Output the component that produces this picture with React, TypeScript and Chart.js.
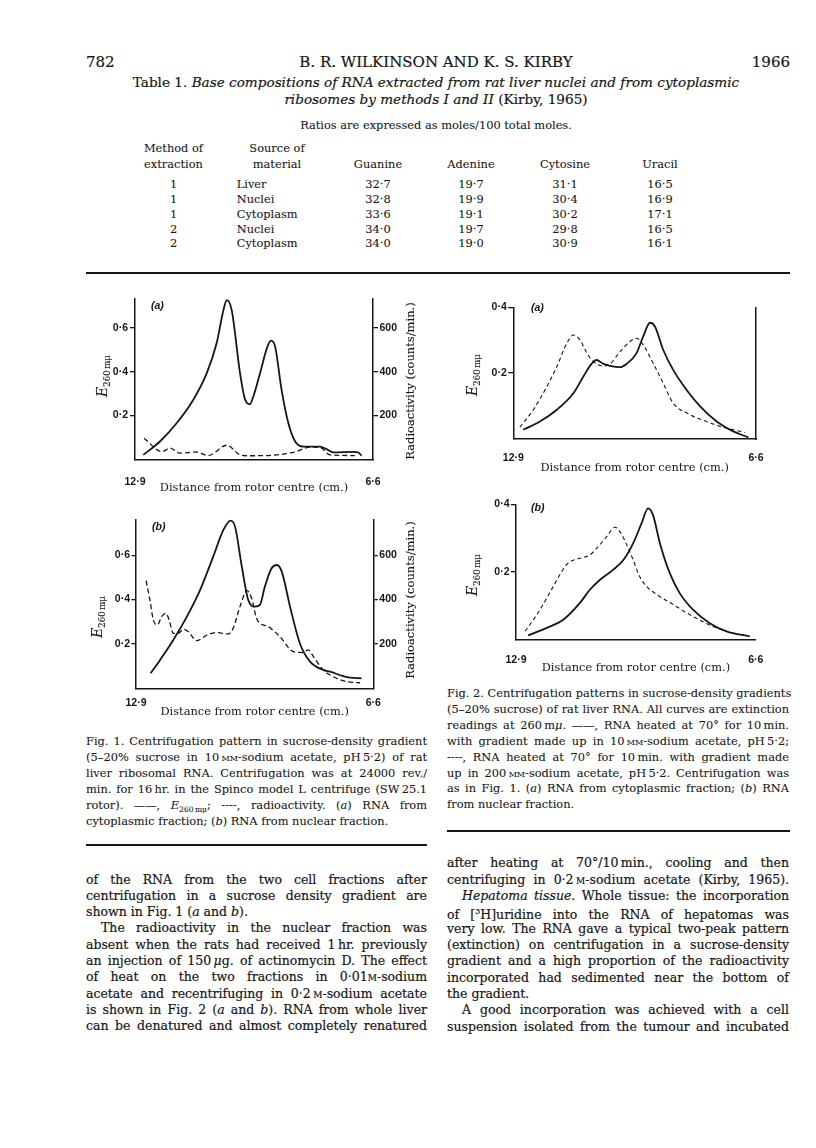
import React, { useEffect, useRef } from "react";
import { Chart, registerables } from "chart.js";
Chart.register(...registerables);

const INK = "#161616";
const SERIF = "'DejaVu Serif', serif";
const MU = "\u03BC";

// ---------- Table data ----------
const tableMethods = [1, 1, 1, 2, 2];
const tableSources = ["Liver", "Nuclei", "Cytoplasm", "Nuclei", "Cytoplasm"];
const guanine = [32.7, 32.8, 33.6, 34.0, 34.0];
const adenine = [19.7, 19.9, 19.1, 19.7, 19.0];
const cytosine = [31.1, 30.4, 30.2, 29.8, 30.9];
const uracil = [16.5, 16.9, 17.1, 16.5, 16.1];

// ---------- Chart data (distance from rotor centre, cm) ----------
const xTicks = [12.9, 6.6];
const fig1LeftTicks = [0.2, 0.4, 0.6];
const fig1RightTicks = [200, 400, 600];
const fig2LeftTicks = [0.2, 0.4];

// Fig. 1 (a): E260 (left axis) and radioactivity (counts/min, right axis)
const fig1aDist = [12.68, 12.24, 11.8, 11.36, 11.0, 10.74, 10.56, 10.47, 10.34, 10.12, 9.99, 9.86, 9.77, 9.59, 9.41, 9.3, 9.19, 9.02, 8.84, 8.66, 8.45, 8.0, 7.83, 7.65, 7.12, 6.99, 6.9];
const fig1aE260 = [0.021, 0.082, 0.165, 0.271, 0.393, 0.529, 0.68, 0.726, 0.68, 0.393, 0.275, 0.252, 0.286, 0.393, 0.506, 0.541, 0.514, 0.317, 0.165, 0.082, 0.059, 0.059, 0.047, 0.032, 0.035, 0.032, 0.017];
const fig1aRadDist = [12.66, 12.19, 11.97, 11.71, 11.27, 10.96, 10.47, 10.12, 9.94, 9.15, 8.71, 8.27, 8.0, 7.74, 7.08];
const fig1aRad = [97, 36, 52, 29, 34, 18, 65, 21, 17, 21, 32, 56, 55, 21, 18];

// Fig. 1 (b)
const fig1bDist = [12.51, 12.26, 11.91, 11.55, 11.2, 10.85, 10.58, 10.39, 10.27, 10.09, 9.92, 9.74, 9.61, 9.48, 9.3, 9.16, 9.03, 8.81, 8.55, 8.28, 7.93, 7.75, 7.4, 7.22, 6.91];
const fig1bE260 = [0.068, 0.128, 0.218, 0.323, 0.443, 0.594, 0.714, 0.756, 0.729, 0.548, 0.398, 0.368, 0.376, 0.458, 0.541, 0.556, 0.526, 0.368, 0.203, 0.12, 0.083, 0.075, 0.055, 0.048, 0.045];
const fig1bRadDist = [12.63, 12.53, 12.44, 12.33, 12.22, 12.1, 12.02, 11.91, 11.78, 11.64, 11.51, 11.29, 11.02, 10.76, 10.45, 10.32, 10.14, 9.95, 9.83, 9.7, 9.61, 9.39, 9.08, 8.72, 8.46, 8.33, 8.19, 7.93, 7.66, 7.31, 6.95];
const fig1bRad = [485, 398, 308, 286, 323, 338, 308, 248, 248, 266, 255, 215, 240, 251, 245, 271, 368, 440, 406, 316, 293, 278, 233, 165, 161, 173, 143, 83, 52, 30, 25];

// Fig. 2 (a): solid = 10mM acetate, dashed = 200mM acetate
const fig2aDist = [12.64, 12.21, 11.77, 11.34, 11.08, 10.87, 10.74, 10.56, 10.39, 10.13, 9.96, 9.7, 9.53, 9.35, 9.22, 9.01, 8.75, 8.4, 8.05, 7.62, 7.19, 6.8];
const fig2aSolid = [0.028, 0.053, 0.089, 0.139, 0.19, 0.228, 0.24, 0.228, 0.222, 0.218, 0.228, 0.261, 0.311, 0.353, 0.341, 0.271, 0.21, 0.149, 0.099, 0.053, 0.023, 0.005];
const fig2aDashDist = [12.73, 12.38, 12.03, 11.77, 11.51, 11.34, 11.17, 10.99, 10.82, 10.56, 10.39, 10.13, 9.87, 9.7, 9.53, 9.27, 9.01, 8.75, 8.31, 7.88, 7.53, 7.19, 6.89];
const fig2aDash = [0.036, 0.089, 0.159, 0.22, 0.291, 0.316, 0.301, 0.261, 0.235, 0.222, 0.228, 0.265, 0.296, 0.306, 0.286, 0.23, 0.17, 0.109, 0.074, 0.053, 0.038, 0.028, 0.02];

// Fig. 2 (b)
const fig2bDist = [12.58, 12.09, 11.66, 11.22, 10.96, 10.7, 10.35, 10.08, 9.82, 9.6, 9.43, 9.3, 9.12, 8.86, 8.6, 8.25, 7.81, 7.37, 6.76];
const fig2bSolid = [0.012, 0.034, 0.058, 0.108, 0.147, 0.176, 0.206, 0.235, 0.285, 0.344, 0.388, 0.368, 0.285, 0.196, 0.137, 0.088, 0.048, 0.024, 0.009];
const fig2bDashDist = [12.66, 12.27, 11.92, 11.61, 11.48, 11.22, 10.96, 10.74, 10.52, 10.3, 10.17, 9.99, 9.82, 9.65, 9.47, 9.12, 8.77, 8.25, 7.72, 7.37];
const fig2bDash = [0.024, 0.088, 0.157, 0.216, 0.23, 0.24, 0.25, 0.275, 0.304, 0.332, 0.319, 0.28, 0.235, 0.186, 0.157, 0.127, 0.103, 0.068, 0.038, 0.024];

const fmt = (v: number, d = 1) => Number(v).toFixed(d).replace(".", "\u00B7");

type Series = { x: number[]; y: number[]; dashed: boolean; axis?: string };
type Spec = {
  left: number; top: number; width: number; height: number;
  padTop: number; padRight: number;
  yWidth: number; y1Width: number; xHeight: number;
  yMax: number; y1Max: number; right: "ticks" | "line" | "none";
  yTicks: number[]; y1Ticks: number[];
  tickLen: number; yLabelPad: number; y1LabelPad: number;
  xLabelPad: number; titlePadBottom: number;
  dash: number[]; dashWidth: number; solidWidth: number;
  series: Series[];
};

const tickFont = { family: "'Liberation Sans', sans-serif", size: 10.5, weight: "bold" as const };
const titleFont = { family: SERIF, size: 11.4 };

function buildConfig(s: Spec): any {
  const datasets = s.series.map((ser) => ({
    data: ser.x.map((x, i) => ({ x, y: ser.y[i] })),
    yAxisID: ser.axis || "y",
    borderColor: INK,
    borderWidth: ser.dashed ? s.dashWidth : s.solidWidth,
    borderDash: ser.dashed ? s.dash : [],
    pointRadius: 0,
    fill: false,
    cubicInterpolationMode: "monotone",
  }));
  const scales: any = {
    x: {
      type: "linear",
      reverse: true,
      min: 6.6,
      max: 12.9,
      afterBuildTicks: (sc: any) => { sc.ticks = xTicks.map((v) => ({ value: v })); },
      afterFit: (sc: any) => { sc.height = s.xHeight; },
      grid: { display: false },
      border: { display: true, color: INK, width: 1.5 },
      ticks: { callback: (v: number) => fmt(v), padding: s.xLabelPad, font: tickFont, color: INK, maxRotation: 0, autoSkip: false },
      title: { display: true, text: "Distance from rotor centre (cm.)", font: titleFont, color: INK, padding: { top: 0, bottom: s.titlePadBottom } },
    },
    y: {
      type: "linear",
      position: "left",
      min: 0,
      max: s.yMax,
      afterBuildTicks: (sc: any) => { sc.ticks = s.yTicks.map((v) => ({ value: v })); },
      afterFit: (sc: any) => { sc.width = s.yWidth; },
      grid: { display: true, drawOnChartArea: false, drawTicks: true, tickLength: s.tickLen, color: INK, lineWidth: 1.3 },
      border: { display: true, color: INK, width: 1.5 },
      ticks: { callback: (v: number) => fmt(v), padding: s.yLabelPad, font: tickFont, color: INK },
    },
  };
  if (s.right === "ticks") {
    scales.y1 = {
      type: "linear",
      position: "right",
      min: 0,
      max: s.y1Max,
      afterBuildTicks: (sc: any) => { sc.ticks = s.y1Ticks.map((v) => ({ value: v })); },
      afterFit: (sc: any) => { sc.width = s.y1Width; },
      grid: { display: true, drawOnChartArea: false, drawTicks: true, tickLength: s.tickLen, color: INK, lineWidth: 1.3 },
      border: { display: true, color: INK, width: 1.5 },
      ticks: { callback: (v: number) => String(v), padding: s.y1LabelPad, font: tickFont, color: INK },
    };
  } else if (s.right === "line") {
    scales.y1 = {
      type: "linear",
      position: "right",
      min: 0,
      max: s.y1Max,
      afterFit: (sc: any) => { sc.width = s.y1Width; },
      grid: { display: false },
      border: { display: true, color: INK, width: 1.5 },
      ticks: { display: false },
    };
  }
  return {
    type: "line",
    data: { datasets },
    options: {
      responsive: false,
      maintainAspectRatio: false,
      animation: false,
      devicePixelRatio: 1,
      layout: { padding: { top: s.padTop, left: 0, right: s.padRight, bottom: 0 } },
      plugins: { legend: { display: false }, tooltip: { enabled: false } },
      scales,
    },
  };
}

function CurveChart({ spec }: { spec: Spec }) {
  const ref = useRef<HTMLCanvasElement>(null);
  useEffect(() => {
    const chart = new Chart(ref.current as HTMLCanvasElement, buildConfig(spec));
    return () => chart.destroy();
  }, []);
  return (
    <canvas
      ref={ref}
      width={spec.width}
      height={spec.height}
      style={{ position: "absolute", left: spec.left, top: spec.top, width: spec.width, height: spec.height }}
    />
  );
}

const spec1a: Spec = {
  left: 80, top: 290, width: 360, height: 207, padTop: 8, padRight: 0,
  yWidth: 55, y1Width: 67, xHeight: 37.5, yMax: 0.734, y1Max: 734, right: "ticks",
  yTicks: fig1LeftTicks, y1Ticks: fig1RightTicks, tickLen: 5, yLabelPad: 2, y1LabelPad: 1.5,
  xLabelPad: 8, titlePadBottom: 1.7, dash: [5, 3], dashWidth: 1.3, solidWidth: 1.8,
  series: [
    { x: fig1aDist, y: fig1aE260, dashed: false },
    { x: fig1aRadDist, y: fig1aRad, dashed: true, axis: "y1" },
  ],
};
const spec1b: Spec = {
  left: 80, top: 510, width: 360, height: 210, padTop: 9.3, padRight: 0,
  yWidth: 56, y1Width: 66.7, xHeight: 31.7, yMax: 0.762, y1Max: 762, right: "ticks",
  yTicks: fig1LeftTicks, y1Ticks: fig1RightTicks, tickLen: 4.5, yLabelPad: 1.5, y1LabelPad: 1.5,
  xLabelPad: 1, titlePadBottom: 1.5, dash: [5, 3], dashWidth: 1.3, solidWidth: 1.8,
  series: [
    { x: fig1bDist, y: fig1bE260, dashed: false },
    { x: fig1bRadDist, y: fig1bRad, dashed: true, axis: "y1" },
  ],
};
const spec2a: Spec = {
  left: 460, top: 298, width: 310, height: 178.3, padTop: 9.3, padRight: 0,
  yWidth: 53.3, y1Width: 14, xHeight: 37, yMax: 0.4, y1Max: 1, right: "line",
  yTicks: fig2LeftTicks, y1Ticks: [], tickLen: 5, yLabelPad: 1.5, y1LabelPad: 0,
  xLabelPad: 5.3, titlePadBottom: 1.5, dash: [4, 3], dashWidth: 1.1, solidWidth: 1.8,
  series: [
    { x: fig2aDist, y: fig2aSolid, dashed: false },
    { x: fig2aDashDist, y: fig2aDash, dashed: true },
  ],
};
const spec2b: Spec = {
  left: 460, top: 495, width: 310, height: 181.3, padTop: 9.3, padRight: 14,
  yWidth: 56, y1Width: 0, xHeight: 36.6, yMax: 0.4, y1Max: 1, right: "none",
  yTicks: fig2LeftTicks, y1Ticks: [], tickLen: 5, yLabelPad: 1.5, y1LabelPad: 0,
  xLabelPad: 6.6, titlePadBottom: 1.5, dash: [4, 3], dashWidth: 1.1, solidWidth: 1.8,
  series: [
    { x: fig2bDist, y: fig2bSolid, dashed: false },
    { x: fig2bDashDist, y: fig2bDash, dashed: true },
  ],
};

// ---------- text helpers ----------
const SC = ({ children }: { children: React.ReactNode }) => (
  <span style={{ fontVariant: "small-caps" }}>{children}</span>
);
const I = ({ children }: { children: React.ReactNode }) => <i>{children}</i>;

function TextLine(props: {
  cy: number; left: number; width: number; size: number; justify?: boolean; indent?: number;
  align?: "left" | "center" | "right"; children: React.ReactNode; lh?: number;
}) {
  const lh = props.lh || 16;
  const align = props.justify ? "justify" : props.align || "left";
  const stroke = props.size >= 12.5 ? "0.2px #161616" : "0.08px #161616";
  return (
    <div
      style={{
        position: "absolute",
        left: props.left,
        top: props.cy - lh / 2,
        width: props.width,
        height: lh,
        lineHeight: lh + "px",
        fontSize: props.size,
        fontFamily: SERIF,
        color: INK,
        whiteSpace: "nowrap",
        textAlign: align as any,
        textAlignLast: align as any,
        paddingLeft: props.indent || 0,
        boxSizing: "border-box",
        WebkitTextStroke: stroke,
      }}
    >
      {props.children}
    </div>
  );
}

function Rotated(props: { cx: number; cy: number; size: number; children: React.ReactNode }) {
  return (
    <div
      style={{
        position: "absolute",
        left: props.cx,
        top: props.cy,
        transform: "translate(-50%, -50%) rotate(-90deg)",
        whiteSpace: "nowrap",
        fontFamily: SERIF,
        fontSize: props.size,
        color: INK,
        lineHeight: "14px",
        WebkitTextStroke: "0.1px #161616",
      }}
    >
      {props.children}
    </div>
  );
}

const E260 = () => (
  <span>
    <i style={{ fontSize: 14 }}>E</i>
    <span style={{ fontSize: 8.5, position: "relative", top: 3 }}>{"260\u2009m" + MU}</span>
  </span>
);

function PanelTag(props: { x: number; y: number; text: string }) {
  return (
    <div
      style={{
        position: "absolute",
        left: props.x,
        top: props.y - 7,
        fontFamily: "'Liberation Sans', sans-serif",
        fontStyle: "italic",
        fontWeight: "bold",
        fontSize: 10.5,
        lineHeight: "14px",
        color: INK,
      }}
    >
      {props.text}
    </div>
  );
}

function Rule(props: { x1: number; x2: number; y: number }) {
  return (
    <div style={{ position: "absolute", left: props.x1, top: props.y - 0.75, width: props.x2 - props.x1, height: 1.5, background: INK }} />
  );
}

const tableRowsY = [184.3, 199, 213.8, 228.6, 243.3];
const valueCols = [378, 471, 565, 660];

export default function App() {
  const bodyL = 86;
  const bodyW = 341;
  const bodyR = 447;
  const bodyRW = 342;
  const leftLines = [879.5, 895.8, 912.1, 928.4, 944.7, 961, 977.3, 993.6, 1009.9, 1026.2];
  const rightLines = [863.3, 879.6, 896, 912.3, 928.6, 945, 961.3, 977.6, 994, 1010.3, 1026.6];
  const cap1 = [741, 757, 773, 789, 805, 821];
  const cap2 = [693.3, 709.2, 725, 740.9, 756.7, 772.6, 788.4, 804.3];
  const bs = 12.5;
  const cs = 11.4;
  const ts = 11.4;
  return (
    <div style={{ position: "absolute", left: 0, top: 0, width: 816, height: 1148, background: "#fff", overflow: "hidden" }}>
      {/* Running head */}
      <TextLine cy={62} left={86} width={100} size={15}>782</TextLine>
      <TextLine cy={62} left={236} width={400} size={15} align="center">B. R. WILKINSON AND K. S. KIRBY</TextLine>
      <TextLine cy={62} left={690} width={100} size={15} align="right">1966</TextLine>

      {/* Table */}
      <TextLine cy={82} left={86} width={700} size={13.6} align="center">
        Table 1. <I>Base compositions of RNA extracted from rat liver nuclei and from cytoplasmic</I>
      </TextLine>
      <TextLine cy={99} left={86} width={700} size={13.6} align="center">
        <I>ribosomes by methods I and II</I> (Kirby, 1965)
      </TextLine>
      <TextLine cy={125} left={86} width={700} size={ts} align="center">Ratios are expressed as moles/100 total moles.</TextLine>
      <TextLine cy={148.3} left={123.5} width={100} size={ts} align="center">Method of</TextLine>
      <TextLine cy={164.3} left={123.5} width={100} size={ts} align="center">extraction</TextLine>
      <TextLine cy={148.3} left={227} width={100} size={ts} align="center">Source of</TextLine>
      <TextLine cy={164.3} left={227} width={100} size={ts} align="center">material</TextLine>
      {["Guanine", "Adenine", "Cytosine", "Uracil"].map((h, i) => (
        <TextLine key={h} cy={164.3} left={valueCols[i] - 50} width={100} size={ts} align="center">{h}</TextLine>
      ))}
      {tableRowsY.map((y, r) => (
        <React.Fragment key={r}>
          <TextLine cy={y} left={123.5} width={100} size={ts} align="center">{String(tableMethods[r])}</TextLine>
          <TextLine cy={y} left={236.7} width={100} size={ts}>{tableSources[r]}</TextLine>
          {[guanine, adenine, cytosine, uracil].map((col, c) => (
            <TextLine key={c} cy={y} left={valueCols[c] - 50} width={100} size={ts} align="center">{fmt(col[r])}</TextLine>
          ))}
        </React.Fragment>
      ))}
      <Rule x1={86} x2={790} y={273} />

      {/* Fig. 1 charts */}
      <CurveChart spec={spec1a} />
      <CurveChart spec={spec1b} />
      <PanelTag x={151} y={305} text="(a)" />
      <PanelTag x={152} y={526} text="(b)" />
      <Rotated cx={103} cy={376} size={11}><E260 /></Rotated>
      <Rotated cx={98} cy={617} size={11}><E260 /></Rotated>
      <Rotated cx={410} cy={381} size={11.5}>Radioactivity (counts/min.)</Rotated>
      <Rotated cx={410} cy={600} size={11.5}>Radioactivity (counts/min.)</Rotated>

      {/* Fig. 2 charts */}
      <CurveChart spec={spec2a} />
      <CurveChart spec={spec2b} />
      <PanelTag x={531} y={307} text="(a)" />
      <PanelTag x={531} y={507} text="(b)" />
      <Rotated cx={473} cy={375} size={11}><E260 /></Rotated>
      <Rotated cx={473} cy={575} size={11}><E260 /></Rotated>

      {/* Fig. 1 caption */}
      <TextLine cy={cap1[0]} left={bodyL} width={bodyW} size={cs} justify>Fig. 1. Centrifugation pattern in sucrose-density gradient</TextLine>
      <TextLine cy={cap1[1]} left={bodyL} width={bodyW} size={cs} justify>(5–20% sucrose in 10{"\u2009"}<SC>mm</SC>-sodium acetate, pH{"\u2009"}5·2) of rat</TextLine>
      <TextLine cy={cap1[2]} left={bodyL} width={bodyW} size={cs} justify>liver ribosomal RNA. Centrifugation was at 24000 rev./</TextLine>
      <TextLine cy={cap1[3]} left={bodyL} width={bodyW} size={cs} justify>min. for 16{"\u2009"}hr. in the Spinco model L centrifuge (SW{"\u2009"}25.1</TextLine>
      <TextLine cy={cap1[4]} left={bodyL} width={bodyW} size={cs} justify>
        rotor). ——, <I>E</I><sub style={{ fontSize: 7.5 }}>{"260\u2009m" + MU}</sub>; ----, radioactivity. (<I>a</I>) RNA from
      </TextLine>
      <TextLine cy={cap1[5]} left={bodyL} width={bodyW} size={cs}>cytoplasmic fraction; (<I>b</I>) RNA from nuclear fraction.</TextLine>
      <Rule x1={86} x2={427} y={845} />

      {/* Fig. 2 caption */}
      <TextLine cy={cap2[0]} left={bodyR} width={bodyRW} size={cs} justify>Fig. 2. Centrifugation patterns in sucrose-density gradients</TextLine>
      <TextLine cy={cap2[1]} left={bodyR} width={bodyRW} size={cs} justify>(5–20% sucrose) of rat liver RNA. All curves are extinction</TextLine>
      <TextLine cy={cap2[2]} left={bodyR} width={bodyRW} size={cs} justify>readings at 260{"\u2009"}m<I>{MU}</I>. ——, RNA heated at 70° for 10{"\u2009"}min.</TextLine>
      <TextLine cy={cap2[3]} left={bodyR} width={bodyRW} size={cs} justify>with gradient made up in 10{"\u2009"}<SC>mm</SC>-sodium acetate, pH{"\u2009"}5·2;</TextLine>
      <TextLine cy={cap2[4]} left={bodyR} width={bodyRW} size={cs} justify>----, RNA heated at 70° for 10{"\u2009"}min. with gradient made</TextLine>
      <TextLine cy={cap2[5]} left={bodyR} width={bodyRW} size={cs} justify>up in 200{"\u2009"}<SC>mm</SC>-sodium acetate, pH{"\u2009"}5·2. Centrifugation was</TextLine>
      <TextLine cy={cap2[6]} left={bodyR} width={bodyRW} size={cs} justify>as in Fig. 1. (<I>a</I>) RNA from cytoplasmic fraction; (<I>b</I>) RNA</TextLine>
      <TextLine cy={cap2[7]} left={bodyR} width={bodyRW} size={cs}>from nuclear fraction.</TextLine>
      <Rule x1={447} x2={790} y={831} />

      {/* Body text, left column */}
      <TextLine cy={leftLines[0]} left={bodyL} width={bodyW} size={bs} justify>of the RNA from the two cell fractions after</TextLine>
      <TextLine cy={leftLines[1]} left={bodyL} width={bodyW} size={bs} justify>centrifugation in a sucrose density gradient are</TextLine>
      <TextLine cy={leftLines[2]} left={bodyL} width={bodyW} size={bs}>shown in Fig. 1 (<I>a</I> and <I>b</I>).</TextLine>
      <TextLine cy={leftLines[3]} left={bodyL} width={bodyW} size={bs} justify indent={15}>The radioactivity in the nuclear fraction was</TextLine>
      <TextLine cy={leftLines[4]} left={bodyL} width={bodyW} size={bs} justify>absent when the rats had received 1{"\u2009"}hr. previously</TextLine>
      <TextLine cy={leftLines[5]} left={bodyL} width={bodyW} size={bs} justify>an injection of 150{"\u2009"}<I>{MU}</I>g. of actinomycin D. The effect</TextLine>
      <TextLine cy={leftLines[6]} left={bodyL} width={bodyW} size={bs} justify>of heat on the two fractions in 0·01<SC>m</SC>-sodium</TextLine>
      <TextLine cy={leftLines[7]} left={bodyL} width={bodyW} size={bs} justify>acetate and recentrifuging in 0·2{"\u2009"}<SC>m</SC>-sodium acetate</TextLine>
      <TextLine cy={leftLines[8]} left={bodyL} width={bodyW} size={bs} justify>is shown in Fig. 2 (<I>a</I> and <I>b</I>). RNA from whole liver</TextLine>
      <TextLine cy={leftLines[9]} left={bodyL} width={bodyW} size={bs} justify>can be denatured and almost completely renatured</TextLine>

      {/* Body text, right column */}
      <TextLine cy={rightLines[0]} left={bodyR} width={bodyRW} size={bs} justify>after heating at 70°/10{"\u2009"}min., cooling and then</TextLine>
      <TextLine cy={rightLines[1]} left={bodyR} width={bodyRW} size={bs} justify>centrifuging in 0·2{"\u2009"}<SC>m</SC>-sodium acetate (Kirby, 1965).</TextLine>
      <TextLine cy={rightLines[2]} left={bodyR} width={bodyRW} size={bs} justify indent={15}><I>Hepatoma tissue</I>. Whole tissue: the incorporation</TextLine>
      <TextLine cy={rightLines[3]} left={bodyR} width={bodyRW} size={bs} justify>of [<sup style={{ fontSize: 8 }}>3</sup>H]uridine into the RNA of hepatomas was</TextLine>
      <TextLine cy={rightLines[4]} left={bodyR} width={bodyRW} size={bs} justify>very low. The RNA gave a typical two-peak pattern</TextLine>
      <TextLine cy={rightLines[5]} left={bodyR} width={bodyRW} size={bs} justify>(extinction) on centrifugation in a sucrose-density</TextLine>
      <TextLine cy={rightLines[6]} left={bodyR} width={bodyRW} size={bs} justify>gradient and a high proportion of the radioactivity</TextLine>
      <TextLine cy={rightLines[7]} left={bodyR} width={bodyRW} size={bs} justify>incorporated had sedimented near the bottom of</TextLine>
      <TextLine cy={rightLines[8]} left={bodyR} width={bodyRW} size={bs}>the gradient.</TextLine>
      <TextLine cy={rightLines[9]} left={bodyR} width={bodyRW} size={bs} justify indent={15}>A good incorporation was achieved with a cell</TextLine>
      <TextLine cy={rightLines[10]} left={bodyR} width={bodyRW} size={bs} justify>suspension isolated from the tumour and incubated</TextLine>
    </div>
  );
}
